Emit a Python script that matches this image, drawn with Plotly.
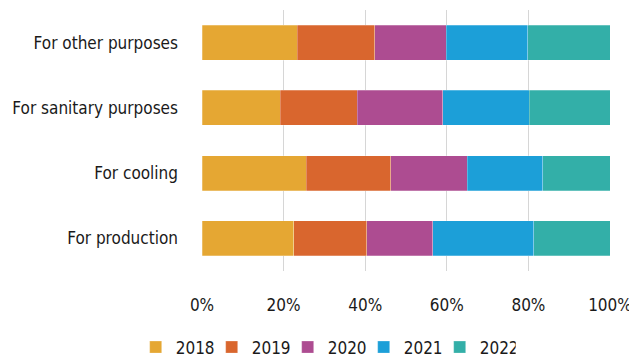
import plotly.graph_objects as go

categories = ["For production", "For cooling", "For sanitary purposes", "For other purposes"]
years = ["2018", "2019", "2020", "2021", "2022"]
values = {
    "2018": [22.5, 25.5, 19.2, 23.4],
    "2019": [17.9, 20.8, 18.9, 19.0],
    "2020": [16.2, 18.7, 20.9, 17.5],
    "2021": [24.7, 18.5, 21.2, 19.9],
    "2022": [18.7, 16.5, 19.8, 20.2],
}
colors = ["#E5A733", "#D9662E", "#AD4C91", "#1C9FD8", "#33AFA8"]
tick_vals = [0, 20, 40, 60, 80, 100]
tick_text = ["0%", "20%", "40%", "60%", "80%", "100%"]

FONT = "DejaVu Sans Condensed, Liberation Sans Narrow, Arial Narrow, sans-serif"

fig = go.Figure()
for y, c in zip(years, colors):
    fig.add_trace(go.Bar(
        y=categories, x=values[y], name=y, orientation="h",
        marker=dict(color=c, line=dict(color="rgba(255,255,255,0.5)", width=0.5)),
    ))

fig.update_layout(
    barmode="stack",
    width=629, height=350,
    margin=dict(l=194, r=27, t=2, b=87),
    paper_bgcolor="white", plot_bgcolor="white",
    bargap=0.46,
    font=dict(family=FONT, size=17, color="#1a1a1a"),
    showlegend=True,
    legend=dict(orientation="h", xref="container", yref="container",
                x=0.203, xanchor="left", y=0.03, yanchor="middle",
                font=dict(size=17), traceorder="normal", itemwidth=30,
                entrywidth=31, tracegroupgap=0),
    xaxis=dict(range=[0, 100], tickvals=tick_vals, ticktext=tick_text,
               showgrid=True, gridcolor="#d6d6d6", gridwidth=1,
               zeroline=False, showline=False, ticks="", ticklabelstandoff=22,
               tickfont=dict(size=17), automargin=False),
    yaxis=dict(showgrid=False, zeroline=False, showline=False, ticks="",
               ticklabelstandoff=23, tickfont=dict(size=17), automargin=False),
)

fig.write_html("out.html")
